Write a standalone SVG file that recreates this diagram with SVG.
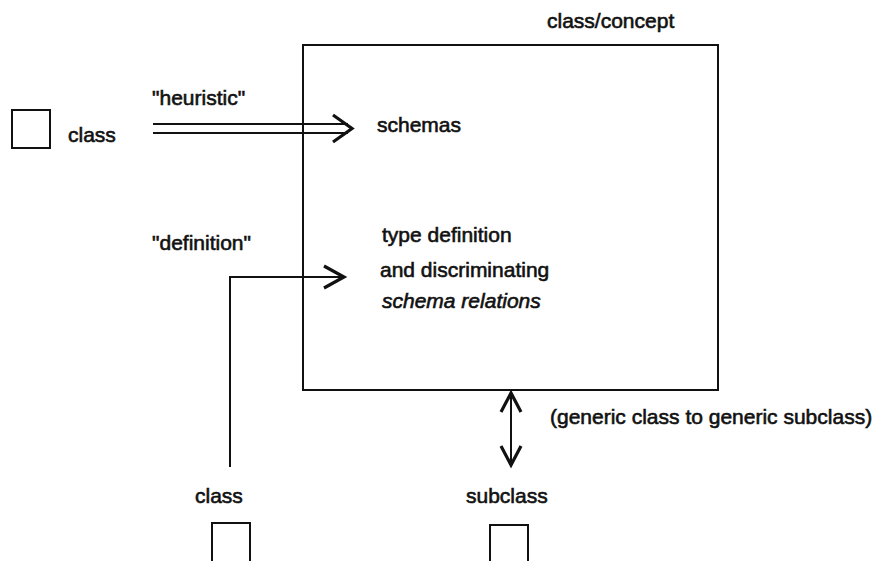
<svg xmlns="http://www.w3.org/2000/svg" width="886" height="561" viewBox="0 0 886 561">
<style>
.t{font-family:"Liberation Sans",Arial,sans-serif;font-size:21px;fill:#111;stroke:#111;stroke-width:0.6}
.box{fill:none;stroke:#111;stroke-width:2}
.ln{fill:none;stroke:#111;stroke-width:2}
.hd{fill:none;stroke:#111;stroke-width:3.2;stroke-linejoin:miter;stroke-linecap:butt}
</style>
<rect width="886" height="561" fill="#fff"/>
<g id="concept">
<rect class="box" x="303" y="45" width="415" height="345"/>
<text class="t" x="547" y="28">class/concept</text>
<text class="t" x="377" y="132">schemas</text>
<text class="t" x="382" y="242">type definition</text>
<text class="t" x="380" y="277">and discriminating</text>
<text class="t" x="382" y="308" font-style="italic">schema relations</text>
</g>
<g id="class-left">
<rect class="box" x="12" y="110" width="38" height="38"/>
<text class="t" x="68" y="142">class</text>
</g>
<g id="class-bottom">
<text class="t" x="195" y="503">class</text>
<rect class="box" x="212" y="523" width="38" height="50"/>
</g>
<g id="subclass">
<text class="t" x="466" y="503">subclass</text>
<rect class="box" x="490" y="525" width="38" height="50"/>
</g>
<g id="connectors">
<path class="ln" d="M153,124 H348 M153,133 H348"/>
<path class="hd" d="M333,115 L352,128.5 L333,142"/>
<text class="t" x="152" y="105">"heuristic"</text>
<path class="ln" d="M230,467 V277 H343"/>
<path class="hd" d="M324,266 L344,277 L324,288"/>
<text class="t" x="152" y="250">"definition"</text>
<path class="ln" d="M511,392 V465"/>
<path class="hd" d="M501,412 L511,393 L521,412 M501,446 L511,465 L521,446"/>
<text class="t" x="550" y="424">(generic class to generic subclass)</text>
</g>
</svg>
